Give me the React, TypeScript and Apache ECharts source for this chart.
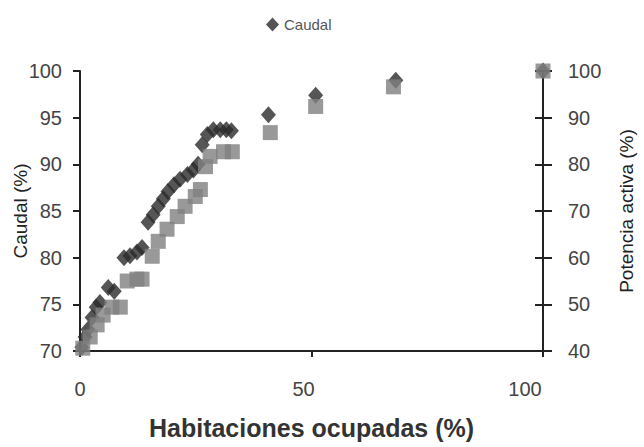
import React, { useEffect, useRef } from "react";
import * as echarts from "echarts";

const caudalX = [0.4, 1.1, 1.7, 2.6, 3.5, 4.3, 6.1, 7.4, 9.5, 10.8, 12.3, 13.4, 14.7, 15.8, 16.9, 18.0, 19.0, 20.3, 21.6, 23.2, 24.5, 25.5, 26.4, 27.5, 28.8, 30.3, 31.6, 32.7, 40.7, 50.9, 68.2, 100];
const caudalY = [70.4, 71.5, 72.3, 73.6, 74.7, 75.2, 76.8, 76.4, 80.0, 80.2, 80.6, 81.1, 83.8, 84.6, 85.5, 86.3, 87.1, 87.8, 88.4, 88.9, 89.4, 90.0, 92.1, 93.2, 93.7, 93.7, 93.7, 93.6, 95.3, 97.4, 99.0, 100];

const potenciaX = [0.6, 2.2, 3.7, 5.0, 6.9, 8.7, 10.2, 12.3, 13.4, 15.6, 16.9, 18.8, 21.0, 22.7, 24.9, 26.0, 27.1, 28.1, 31.0, 32.9, 41.1, 50.9, 67.7, 100];
const potenciaY = [40.6, 43.0, 45.6, 47.7, 49.4, 49.4, 55.0, 55.4, 55.4, 60.3, 63.5, 66.1, 68.8, 71.0, 73.1, 74.6, 79.5, 81.7, 82.7, 82.7, 86.8, 92.4, 96.6, 100];

const xTicks = [0, 100, 50];
const leftRange = [70, 100, 5];
const rightRange = [40, 100, 10];

export default function App() {
  const ref = useRef<HTMLDivElement>(null);
  useEffect(() => {
    if (!ref.current) return;
    const chart = echarts.init(ref.current, null, { renderer: "svg" });
    const font = "Liberation Sans, Arial, sans-serif";
    const labelStyle = { color: "#444", fontSize: 20, fontFamily: font };
    const lineStyle = { color: "#222", width: 2 };
    chart.setOption({
      animation: false,
      backgroundColor: "#fff",
      legend: {
        data: [{ name: "Caudal", icon: "diamond" }],
        top: 12,
        left: 261,
        itemWidth: 13,
        itemHeight: 14,
        itemGap: 9,
        textStyle: { color: "#555", fontSize: 15, fontFamily: font },
      },
      grid: { left: 80, right: 101, top: 71, bottom: 96, containLabel: false, outerBoundsMode: "none" },
      xAxis: {
        type: "value",
        min: xTicks[0],
        max: xTicks[1],
        interval: xTicks[2],
        name: "Habitaciones ocupadas (%)",
        nameLocation: "middle",
        nameGap: 64,
        nameMoveOverlap: false,
        nameTextStyle: { color: "#333", fontSize: 25, fontWeight: "bold", fontFamily: font },
        axisLine: { lineStyle },
        axisTick: { show: true, length: 6, lineStyle },
        axisLabel: {
          ...labelStyle,
          margin: 28,
          formatter: (v: number) => `{s${v}|${v}}`,
          rich: {
            s0: { ...labelStyle, padding: [0, 0, 0, 0] },
            s50: { ...labelStyle, padding: [0, 16, 0, 0] },
            s100: { ...labelStyle, padding: [0, 36, 0, 0] },
          },
        },
        splitLine: { show: false },
      },
      yAxis: [
        {
          type: "value",
          min: leftRange[0],
          max: leftRange[1],
          interval: leftRange[2],
          position: "left",
          name: "Caudal (%)",
          nameLocation: "middle",
          nameGap: 50,
          nameMoveOverlap: false,
          nameRotate: 90,
          nameTextStyle: { color: "#222", fontSize: 19, fontFamily: font },
          axisLine: { show: true, lineStyle },
          axisTick: { show: true, length: 7, lineStyle },
          axisLabel: { ...labelStyle, margin: 18 },
          splitLine: { show: false },
        },
        {
          type: "value",
          min: rightRange[0],
          max: rightRange[1],
          interval: rightRange[2],
          position: "right",
          name: "Potencia activa (%)",
          nameLocation: "middle",
          nameGap: 74,
          nameMoveOverlap: false,
          nameRotate: 90,
          nameTextStyle: { color: "#222", fontSize: 19, fontFamily: font },
          axisLine: { show: true, lineStyle },
          axisTick: { show: true, length: 9, lineStyle },
          axisLabel: { ...labelStyle, margin: 25 },
          splitLine: { show: false },
        },
        {
          type: "value",
          min: rightRange[0],
          max: rightRange[1],
          interval: rightRange[2],
          position: "right",
          axisLine: { show: false },
          axisTick: { show: true, inside: true, length: 8, lineStyle },
          axisLabel: { show: false },
          splitLine: { show: false },
        },
      ],
      series: [
        {
          name: "Caudal",
          type: "scatter",
          yAxisIndex: 0,
          symbol: "diamond",
          symbolSize: [15, 17],
          itemStyle: { color: "#2b2b2b" },
          data: caudalX.map((x, i) => [x, caudalY[i]]),
          z: 2,
        },
        {
          name: "Potencia activa",
          type: "scatter",
          yAxisIndex: 1,
          symbol: "rect",
          symbolSize: [15, 15],
          itemStyle: { color: "#808080" },
          data: potenciaX.map((x, i) => [x, potenciaY[i]]),
          z: 3,
        },
      ],
    });
    return () => chart.dispose();
  }, []);
  return <div ref={ref} style={{ width: 644, height: 447, position: "absolute", left: 0, top: 0 }} />;
}
